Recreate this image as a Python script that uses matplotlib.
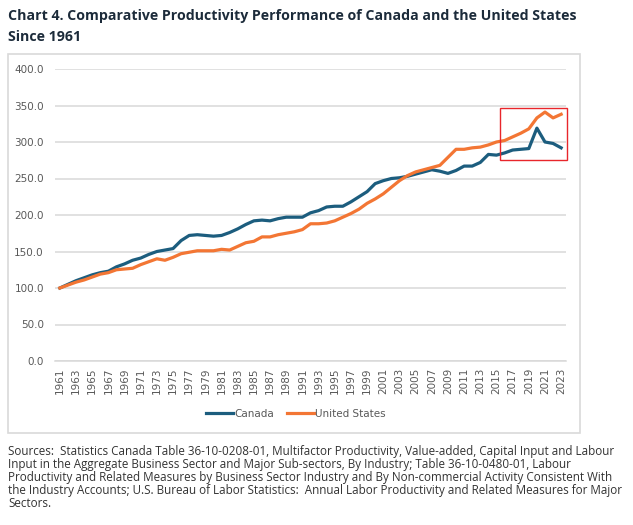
import numpy as np
import matplotlib
matplotlib.use("Agg")
import matplotlib.pyplot as plt
import matplotlib.patches as mpatches
from matplotlib.lines import Line2D

# ── DATA ───────────────────────────────────────────────────────────────────────
years = list(range(1961, 2024))

canada = [100, 105, 110, 114, 118, 121, 123, 129, 133, 138,
          141, 146, 150, 152, 154, 165, 172, 173, 172, 171,
          172, 176, 181, 187, 192, 193, 192, 195, 197, 197,
          197, 203, 206, 211, 212, 212, 218, 225, 232, 243,
          247, 250, 251, 253, 256, 259, 262, 260, 257, 261,
          267, 267, 272, 283, 282, 285, 289, 290, 291, 319,
          300, 298, 292]

united_states = [100, 104, 108, 111, 115, 119, 121, 125, 126, 127,
                 132, 136, 140, 138, 142, 147, 149, 151, 151, 151,
                 153, 152, 157, 162, 164, 170, 170, 173, 175, 177,
                 180, 188, 188, 189, 192, 197, 202, 208, 216, 222,
                 229, 238, 247, 254, 259, 262, 265, 268, 279, 290,
                 290, 292, 293, 296, 300, 302, 307, 312, 318, 333,
                 341, 333, 338]

tick_years = years[::2]
y_ticks = [0, 50, 100, 150, 200, 250, 300, 350, 400]

title = ("Chart 4. Comparative Productivity Performance of Canada and the United States\n"
         "Since 1961")
source_note = ("Sources:  Statistics Canada Table 36-10-0208-01, Multifactor Productivity, Value-added, Capital Input and Labour\n"
               "Input in the Aggregate Business Sector and Major Sub-sectors, By Industry; Table 36-10-0480-01, Labour\n"
               "Productivity and Related Measures by Business Sector Industry and By Non-commercial Activity Consistent With\n"
               "the Industry Accounts; U.S. Bureau of Labor Statistics:  Annual Labor Productivity and Related Measures for Major\n"
               "Sectors.")

# ── STYLE ──────────────────────────────────────────────────────────────────────
CANADA_COL = '#1c5d7e'
US_COL     = '#f37634'
GRID_COL   = '#d9d9d9'
TICK_COL   = '#595959'
W, H = 633, 525

fig = plt.figure(figsize=(W / 100, H / 100), dpi=100)

def fx(px):
    return px / W

def fy(py):
    return 1 - py / H

# chart frame
frame = mpatches.Rectangle((fx(8), fy(433)), fx(580) - fx(8), fy(54) - fy(433),
                           transform=fig.transFigure, fill=False,
                           edgecolor=GRID_COL, linewidth=1.2)
fig.patches.append(frame)

ax = fig.add_axes([fx(55), fy(361), fx(566) - fx(55), fy(69) - fy(361)])

ax.plot(years, canada, color=CANADA_COL, lw=2.3, solid_joinstyle='round', zorder=3)
ax.plot(years, united_states, color=US_COL, lw=2.3, solid_joinstyle='round', zorder=3)

ax.set_ylim(0, 400)
ax.set_xlim(1960.4, 2023.6)
ax.set_yticks(y_ticks)
ax.set_yticklabels([f"{v:.1f}" for v in y_ticks])
ax.set_xticks(tick_years)
ax.set_xticklabels([str(y) for y in tick_years], rotation=90)
ax.tick_params(axis='y', length=0, labelsize=7.5, colors=TICK_COL, pad=8)
ax.tick_params(axis='x', length=0, labelsize=7.5, colors=TICK_COL, pad=5)
ax.grid(axis='y', color=GRID_COL, lw=1.1)
ax.set_axisbelow(True)
for s in ['top', 'right', 'left']:
    ax.spines[s].set_visible(False)
ax.spines['bottom'].set_color(GRID_COL)
ax.spines['bottom'].set_linewidth(1.1)
ax.set_facecolor('none')

# red highlight box
hl = mpatches.Rectangle((fx(500), fy(160)), fx(567) - fx(500), fy(108) - fy(160),
                        transform=fig.transFigure, fill=False,
                        edgecolor='#e8262b', linewidth=1.0, zorder=5)
fig.patches.append(hl)

# legend
handles = [Line2D([0], [0], color=CANADA_COL, lw=2.3),
           Line2D([0], [0], color=US_COL, lw=2.3)]
fig.legend(handles, ['Canada', 'United States'], loc='center',
           bbox_to_anchor=(fx(296), fy(414)), ncol=2, frameon=False,
           fontsize=7.5, labelcolor=TICK_COL, handlelength=2.6,
           handletextpad=0.1, columnspacing=1.3)

# title + source
fig.text(fx(8), fy(9), title, ha='left', va='top', fontsize=10.2,
         family='Open Sans', fontweight='bold', color='#1c2b3a', linespacing=1.6)
fig.text(fx(8), fy(445), source_note, ha='left', va='top', fontsize=8.4,
         family='Open Sans', color='#333333', linespacing=1.0)

fig.savefig("out.png", dpi=100)
